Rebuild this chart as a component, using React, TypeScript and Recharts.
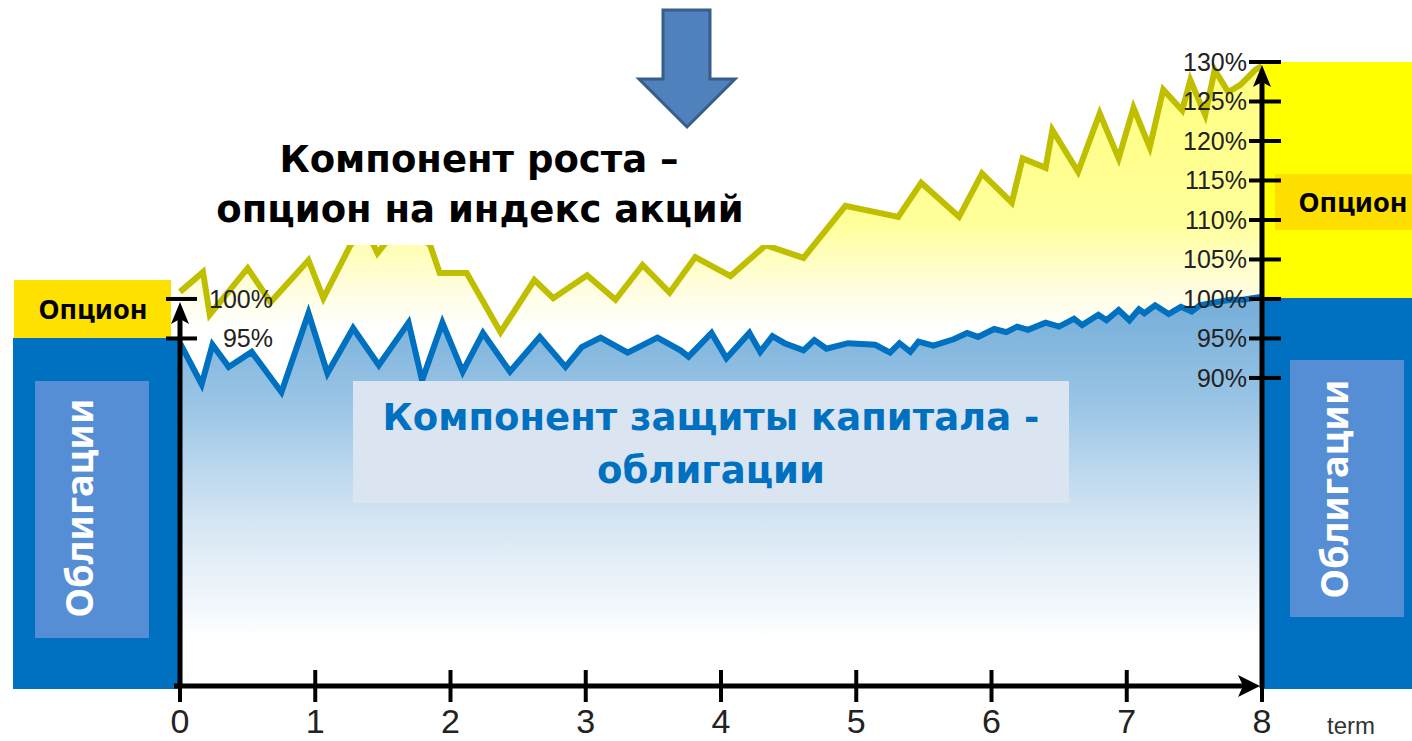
import { Area, ComposedChart, ReferenceLine, XAxis, YAxis } from "recharts";

// term axis and percent ticks
const terms = [0, 1, 2, 3, 4, 5, 6, 7, 8];
const rightTicks = [90, 95, 100, 105, 110, 115, 120, 125, 130];
const leftTicks = [95, 100];

// option (growth) path, % of capital
const optionTerm = [0, 0.17, 0.22, 0.5, 0.67, 0.95, 1.06, 1.26, 1.37, 1.46, 1.64, 1.85, 1.92, 2.12, 2.37, 2.62, 2.76, 3.01, 3.22, 3.42, 3.62, 3.81, 4.07, 4.33, 4.61, 4.92, 5.31, 5.48, 5.76, 5.93, 6.15, 6.23, 6.4, 6.45, 6.64, 6.8, 6.94, 7.05, 7.17, 7.27, 7.41, 7.47, 7.58, 7.65, 7.75, 7.84, 7.95, 8];
const optionLevel = [100.9, 103.4, 98.0, 103.9, 99.6, 104.9, 100.1, 106.8, 109.0, 105.8, 109.7, 106.8, 103.3, 103.3, 95.8, 102.4, 100.1, 103.0, 99.9, 104.3, 100.8, 105.3, 102.9, 106.8, 105.2, 111.8, 110.4, 114.7, 110.4, 115.9, 112.2, 117.8, 116.6, 121.4, 116.1, 123.5, 117.8, 124.2, 119.2, 126.5, 123.9, 127.7, 123.3, 129.0, 126.2, 127.1, 129.0, 129.5];

// bond (capital protection) path
const bondTerm = [0, 0.16, 0.24, 0.36, 0.53, 0.75, 0.95, 1.09, 1.28, 1.47, 1.69, 1.79, 1.94, 2.09, 2.24, 2.44, 2.66, 2.85, 2.97, 3.11, 3.31, 3.53, 3.7, 3.76, 3.93, 4.04, 4.21, 4.29, 4.38, 4.47, 4.61, 4.69, 4.78, 4.94, 5.14, 5.25, 5.32, 5.4, 5.46, 5.57, 5.72, 5.82, 5.9, 6.02, 6.11, 6.19, 6.27, 6.4, 6.5, 6.61, 6.67, 6.79, 6.85, 6.94, 7.02, 7.09, 7.13, 7.21, 7.31, 7.4, 7.48, 7.54, 7.66, 7.77, 7.86, 8];
const bondLevel = [94.4, 89.2, 94.2, 91.4, 93.3, 88.2, 98.2, 90.6, 96.3, 91.6, 97.0, 89.7, 97.0, 90.8, 95.7, 90.8, 95.2, 91.4, 93.9, 95.1, 93.2, 95.1, 93.5, 92.7, 95.7, 92.5, 95.7, 93.3, 95.3, 94.4, 93.5, 94.8, 93.7, 94.4, 94.2, 93.2, 94.4, 93.3, 94.6, 94.1, 94.9, 95.7, 95.2, 96.2, 95.8, 96.5, 96.1, 97.0, 96.5, 97.5, 96.7, 98.0, 97.3, 98.6, 97.3, 98.7, 98.2, 99.2, 98.1, 99.0, 98.4, 99.2, 99.6, 99.9, 99.9, 100.3];

const optionData = optionTerm.map((t, i) => ({ t, v: optionLevel[i] }));
const bondData = bondTerm.map((t, i) => ({ t, v: bondLevel[i] }));

const tickFont = "'Liberation Sans', Arial, sans-serif";
const boldFont = "'DejaVu Sans', sans-serif";
const labelFont = "'Noto Sans', sans-serif";

function TermTick({ x, y, payload }: any) {
  return (
    <g>
      <line x1={x} x2={x} y1={y - 16} y2={y + 16} stroke="#000" strokeWidth={4} />
      <text x={x} y={y + 47} textAnchor="middle" fontFamily={tickFont} fontSize={34} fill="#222">
        {payload.value}
      </text>
    </g>
  );
}

// right axis sits at x = tick x (tickSize and tickMargin are 0)
function RightTick({ x, y, payload }: any) {
  return (
    <g>
      <line x1={x - 13} x2={x + 19} y1={y} y2={y} stroke="#000" strokeWidth={4} />
      <text x={x - 15} y={y} dy="0.36em" textAnchor="end" fontFamily={tickFont} fontSize={25} fill="#222">
        {payload.value}%
      </text>
    </g>
  );
}

function LeftTick({ x, y, payload }: any) {
  return (
    <g>
      <line x1={x - 14} x2={x + 17} y1={y} y2={y} stroke="#000" strokeWidth={4} />
      <text x={x + 93} y={y} dy="0.36em" textAnchor="end" fontFamily={tickFont} fontSize={25} fill="#222">
        {payload.value}%
      </text>
    </g>
  );
}

function RightArrowAxis(props: any) {
  const { x1, x2, y1 } = props;
  const left = Math.min(x1, x2);
  const right = Math.max(x1, x2);
  return (
    <g>
      <line x1={left - 6} x2={right - 8} y1={y1} y2={y1} stroke="#000" strokeWidth={5} />
      <polygon points={`${right - 2},${y1} ${right - 24},${y1 - 11} ${right - 19},${y1} ${right - 24},${y1 + 11}`} fill="#000" />
    </g>
  );
}

function UpArrowAxis(props: any) {
  const { x1, y1, y2 } = props;
  const top = Math.min(y1, y2);
  const bottom = Math.max(y1, y2);
  return (
    <g>
      <line x1={x1} x2={x1} y1={top + 10} y2={bottom + 2} stroke="#000" strokeWidth={5} />
      <polygon points={`${x1},${top + 3} ${x1 - 9},${top + 25} ${x1},${top + 20} ${x1 + 9},${top + 25}`} fill="#000" />
    </g>
  );
}

export default function App() {
  return (
    <div style={{ position: "absolute", left: 0, top: 0, width: 1412, height: 741, background: "#fff", overflow: "hidden" }}>
      <svg width={1412} height={741} style={{ position: "absolute", left: 0, top: 0 }}>
        {/* left side: bonds + option */}
        <rect x={13} y={338} width={165} height={351} fill="#0070c0" />
        <rect x={35} y={381} width={114} height={257} fill="#558ed5" />
        <text x={78} y={508} transform="rotate(-90 78 508)" textAnchor="middle" dominantBaseline="central" fontFamily={labelFont} fontWeight={700} fontSize={38} fill="#fff">
          Облигации
        </text>
        <rect x={14} y={280} width={157} height={58} fill="#ffe100" />
        <text x={93} y={319} textAnchor="middle" fontFamily={labelFont} fontWeight={700} fontSize={27} fill="#000">
          Опцион
        </text>
        {/* right side */}
        <rect x={1262} y={62} width={150} height={236} fill="#ffff00" />
        <rect x={1275} y={174} width={137} height={56} fill="#ffdf00" />
        <text x={1353} y={212} textAnchor="middle" fontFamily={labelFont} fontWeight={700} fontSize={27} fill="#000">
          Опцион
        </text>
        <rect x={1262} y={298} width={150} height={391} fill="#0070c0" />
        <rect x={1290} y={360} width={114} height={257} fill="#558ed5" />
        <text x={1333} y={489} transform="rotate(-90 1333 489)" textAnchor="middle" dominantBaseline="central" fontFamily={labelFont} fontWeight={700} fontSize={38} fill="#fff">
          Облигации
        </text>
      </svg>

      <div style={{ position: "absolute", left: 0, top: 0 }}>
        <ComposedChart width={1412} height={741} margin={{ top: 62, right: 149, bottom: 0, left: 179 }}>
          <defs>
            <linearGradient id="optionFill" gradientUnits="userSpaceOnUse" x1="0" y1="60" x2="0" y2="328">
              <stop offset="0" stopColor="#ffff80" />
              <stop offset="0.6" stopColor="#ffff99" />
              <stop offset="0.86" stopColor="#fffde0" />
              <stop offset="1" stopColor="#ffffff" />
            </linearGradient>
            <linearGradient id="bondFill" gradientUnits="userSpaceOnUse" x1="0" y1="310" x2="0" y2="640">
              <stop offset="0" stopColor="#78b0da" />
              <stop offset="0.3" stopColor="#9cc6e6" />
              <stop offset="0.62" stopColor="#d2e4f3" />
              <stop offset="1" stopColor="#ffffff" />
            </linearGradient>
          </defs>
          <Area
            yAxisId="r"
            data={optionData}
            dataKey="v"
            type="linear"
            stroke="#bfbf00"
            strokeWidth={6}
            fill="url(#optionFill)"
            fillOpacity={1}
            dot={false}
            activeDot={false}
            isAnimationActive={false}
          />
          <Area
            yAxisId="r"
            data={bondData}
            dataKey="v"
            type="linear"
            stroke="#0070c0"
            strokeWidth={6}
            fill="url(#bondFill)"
            fillOpacity={1}
            dot={false}
            activeDot={false}
            isAnimationActive={false}
          />
          <XAxis
            dataKey="t"
            type="number"
            domain={[0, 8]}
            ticks={terms}
            height={55}
            axisLine={false}
            tickLine={false}
            tickSize={0}
            tickMargin={0}
            tick={<TermTick />}
            interval={0}
          />
          <YAxis
            yAxisId="r"
            orientation="right"
            type="number"
            domain={[51, 130]}
            allowDataOverflow
            ticks={rightTicks}
            width={1}
            axisLine={false}
            tickLine={false}
            tickSize={0}
            tickMargin={0}
            tick={<RightTick />}
            interval={0}
          />
          <YAxis
            yAxisId="l"
            orientation="left"
            type="number"
            domain={[51, 130]}
            allowDataOverflow
            ticks={leftTicks}
            width={1}
            axisLine={false}
            tickLine={false}
            tickSize={0}
            tickMargin={0}
            tick={<LeftTick />}
            interval={0}
          />
          <ReferenceLine yAxisId="r" y={51} shape={RightArrowAxis} />
          <ReferenceLine yAxisId="r" x={8} shape={UpArrowAxis} />
          <ReferenceLine yAxisId="r" segment={[{ x: 0, y: 51 }, { x: 0, y: 100 }]} shape={UpArrowAxis} />
        </ComposedChart>
      </div>

      <svg width={1412} height={741} style={{ position: "absolute", left: 0, top: 0 }}>
        <rect x={185} y={118} width={605} height={127} fill="#fff" />
        <text x={479} y={172} textAnchor="middle" fontFamily={boldFont} fontWeight={700} fontSize={37} fill="#000">
          Компонент роста –
        </text>
        <text x={480} y={222} textAnchor="middle" fontFamily={boldFont} fontWeight={700} fontSize={37} fill="#000">
          опцион на индекс акций
        </text>
        <rect x={353} y={381} width={716} height={122} fill="#dbe5f1" />
        <text x={711} y={430} textAnchor="middle" fontFamily={boldFont} fontWeight={700} fontSize={37} fill="#0070c0">
          Компонент защиты капитала -
        </text>
        <text x={711} y={483} textAnchor="middle" fontFamily={boldFont} fontWeight={700} fontSize={37} fill="#0070c0">
          облигации
        </text>
        <polygon points="663,10 710,10 710,79 735,79 687,127 639,79 663,79" fill="#4f81bd" stroke="#385d8a" strokeWidth={3} />
        <text x={1327} y={734} fontFamily={tickFont} fontSize={24} fill="#333">
          term
        </text>
      </svg>
    </div>
  );
}
